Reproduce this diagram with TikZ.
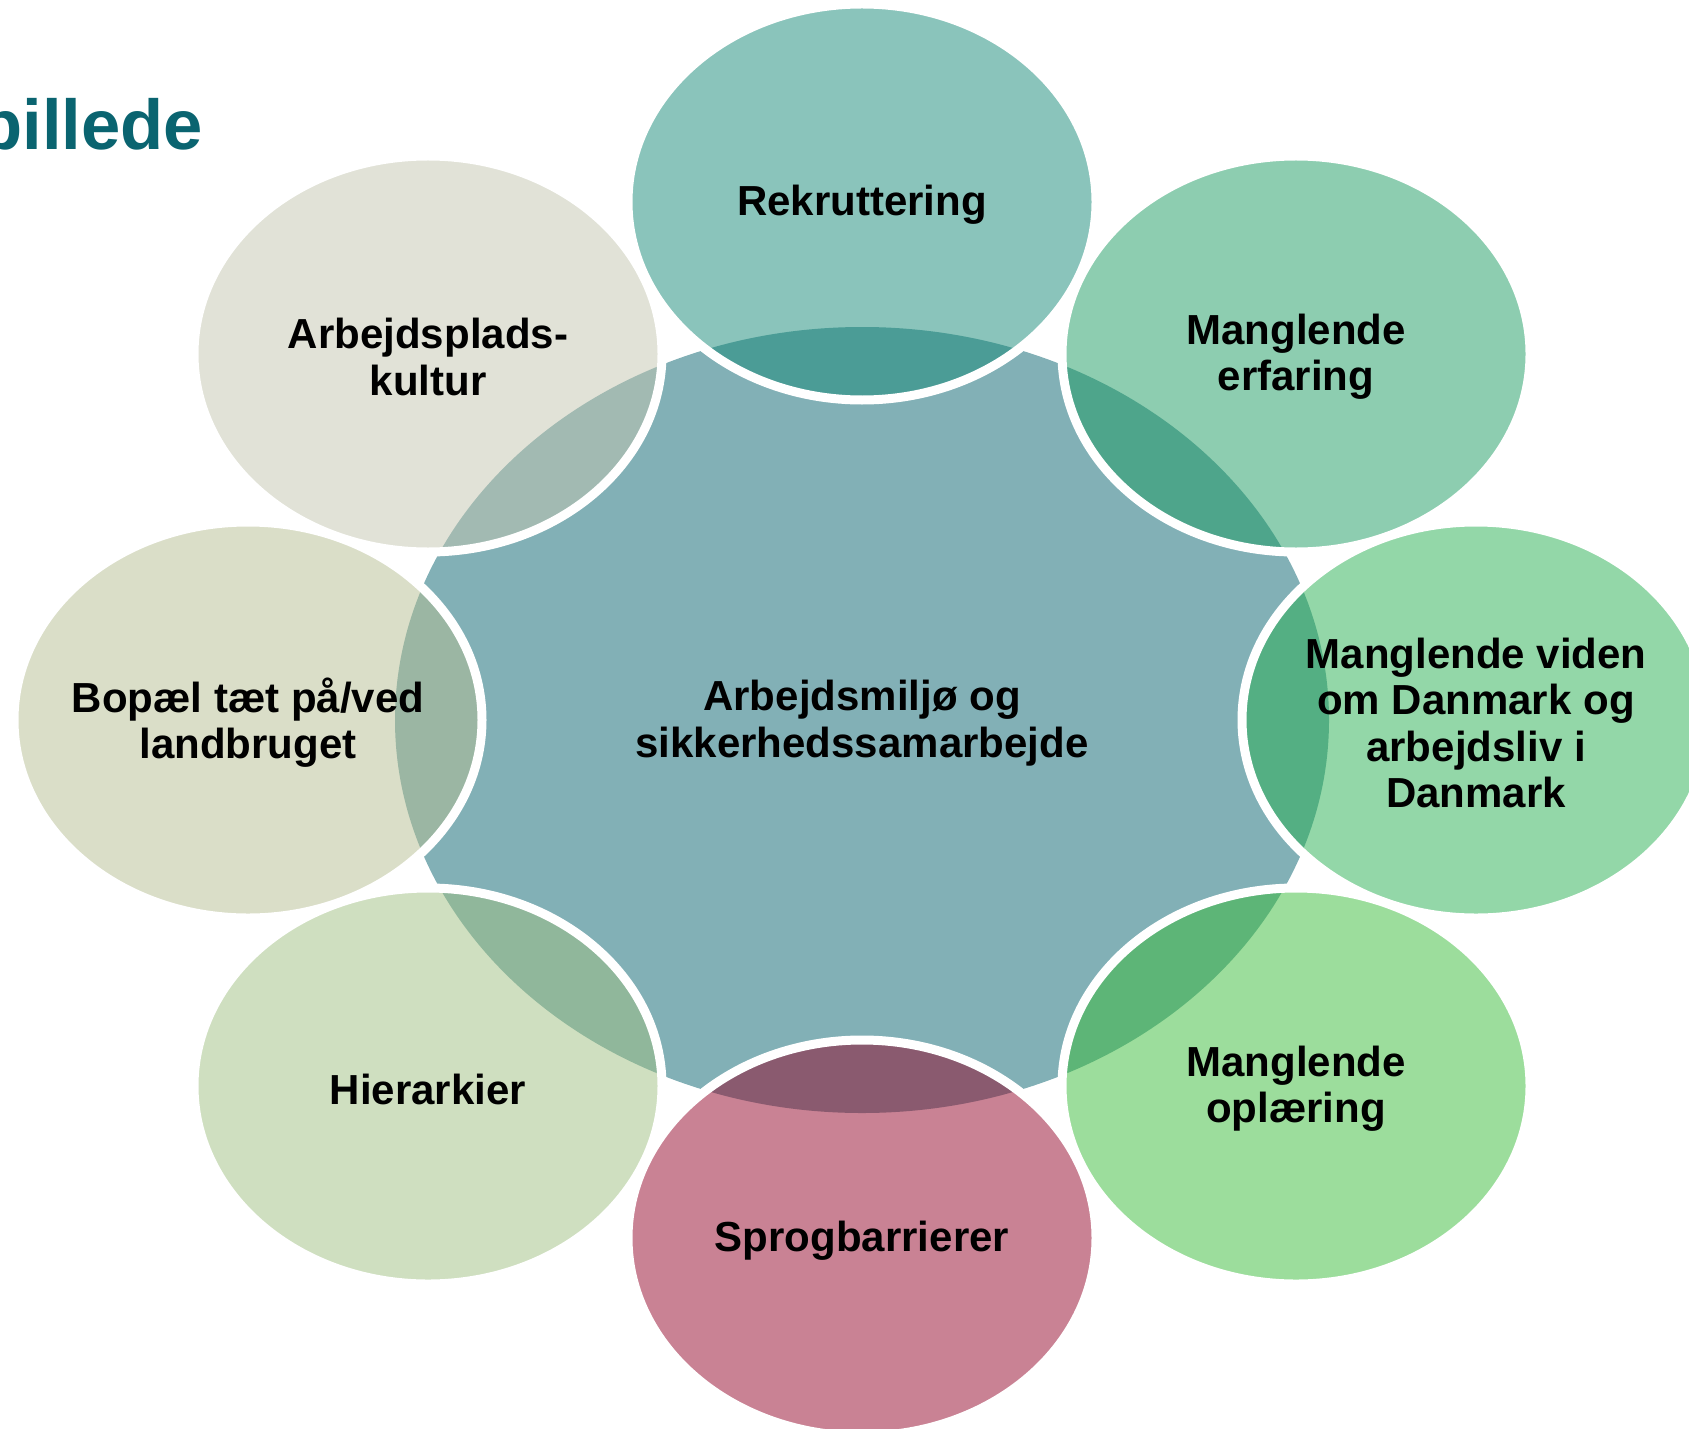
\documentclass[tikz,border=0pt]{standalone}
\usepackage{fontspec}
\setmainfont{Liberation Sans}
\definecolor{cmid}{RGB}{130,176,182}
\definecolor{crek}{RGB}{21,137,119}
\definecolor{cerf}{RGB}{27,155,97}
\definecolor{cvid}{RGB}{39,175,81}
\definecolor{copl}{RGB}{57,187,57}
\definecolor{cspr}{RGB}{147,5,41}
\definecolor{chie}{RGB}{159,191,129}
\definecolor{cbop}{RGB}{181,189,145}
\definecolor{carb}{RGB}{195,197,175}
\definecolor{ctitle}{RGB}{10,100,112}
\tikzset{
  petal/.style={fill opacity=0.5, draw=white, draw opacity=1, line width=4.5pt},
  lbl/.style={align=center, inner sep=0pt, text=black, yshift=-1.5pt, font=\bfseries\fontsize{21}{23.15}\selectfont},
}
\begin{document}
\begin{tikzpicture}[x=0.5pt,y=-0.5pt]
\useasboundingbox (0,0) rectangle (1689,1428);
% title fragment
\node[anchor=base west, inner sep=0pt, text=ctitle, font=\bfseries\fontsize{35.3}{40}\selectfont] (title) at (-21,150) {billede};
% central ellipse
\fill[cmid] (862,720) ellipse [x radius=233.5pt, y radius=196.5pt];
% outer ellipses
\path[petal, fill=crek] (862,202) ellipse [x radius=117pt, y radius=99pt];
\path[petal, fill=cerf] (1296,354) ellipse [x radius=117pt, y radius=99pt];
\path[petal, fill=cvid] (1476,720) ellipse [x radius=117pt, y radius=99pt];
\path[petal, fill=copl] (1296,1086) ellipse [x radius=117pt, y radius=99pt];
\path[petal, fill=cspr] (862,1238) ellipse [x radius=117pt, y radius=99pt];
\path[petal, fill=chie] (428,1086) ellipse [x radius=117pt, y radius=99pt];
\path[petal, fill=cbop] (248,720) ellipse [x radius=117pt, y radius=99pt];
\path[petal, fill=carb] (428,354) ellipse [x radius=117pt, y radius=99pt];
% labels
\node[lbl] (mid) at (862,720) {Arbejdsmiljø og\\sikkerhedssamarbejde};
\node[lbl] (rek) at (862,202) {Rekruttering};
\node[lbl] (erf) at (1296,354) {Manglende\\erfaring};
\node[lbl] (vid) at (1476,720) {Manglende viden\\om Danmark og\\arbejdsliv i\\Danmark};
\node[lbl] (opl) at (1296,1086) {Manglende\\oplæring};
\node[lbl] (spr) at (862,1238) {Sprogbarrierer};
\node[lbl] (hie) at (428,1086) {Hierarkier};
\node[lbl] (bop) at (248,720) {Bopæl tæt på/ved\\landbruget};
\node[lbl] (arb) at (428,354) {Arbejdsplads-\\kultur};
\end{tikzpicture}
\end{document}
